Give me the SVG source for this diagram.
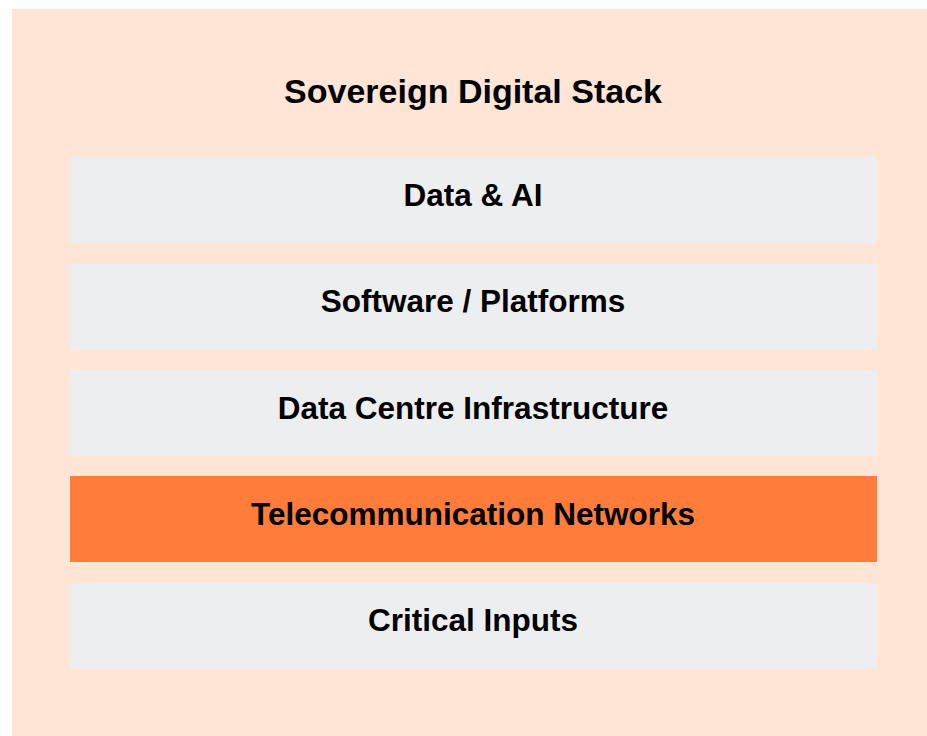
<svg xmlns="http://www.w3.org/2000/svg" width="927" height="736" viewBox="0 0 927 736">
  <style>
    .layer { fill: #edeef0; }
    .layer.hl { fill: #ff7c3a; }
    .label { font-family: "Liberation Sans", Arial, sans-serif; font-weight: bold; font-size: 31.5px; fill: #000; text-anchor: middle; }
    .title { font-size: 34px; }
  </style>
  <rect x="0" y="0" width="927" height="736" fill="#ffffff"/>
  <rect x="12" y="9" width="915" height="727" fill="#fee5d6"/>
  <text class="label title" x="473" y="103">Sovereign Digital Stack</text>
  <g id="data-ai">
    <rect class="layer" x="70" y="157" width="807" height="86"/>
    <text class="label" x="473" y="206">Data &amp; AI</text>
  </g>
  <g id="software-platforms">
    <rect class="layer" x="70" y="264" width="807" height="86"/>
    <text class="label" x="473" y="312">Software / Platforms</text>
  </g>
  <g id="data-centre">
    <rect class="layer" x="70" y="370" width="807" height="86"/>
    <text class="label" x="473" y="419">Data Centre Infrastructure</text>
  </g>
  <g id="telecom">
    <rect class="layer hl" x="70" y="476" width="807" height="86"/>
    <text class="label" x="473" y="525">Telecommunication Networks</text>
  </g>
  <g id="critical-inputs">
    <rect class="layer" x="70" y="583" width="807" height="86"/>
    <text class="label" x="473" y="631">Critical Inputs</text>
  </g>
  <g id="connectors"></g>
</svg>
